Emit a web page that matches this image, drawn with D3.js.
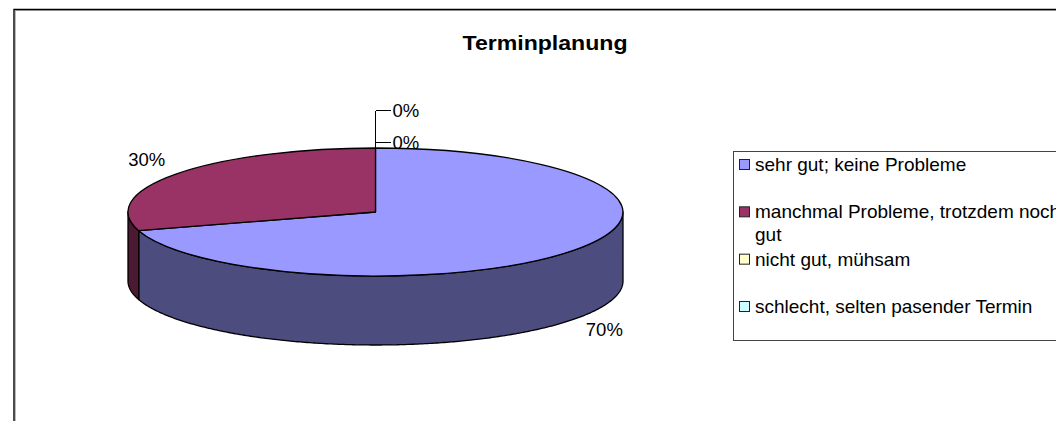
<!DOCTYPE html>
<meta charset="utf-8">
<style>

body {
  margin: 0;
  background: #fff;
  overflow: hidden;
}

text {
  font-family: "Liberation Sans", Arial, sans-serif;
  font-size: 18.5px;
  fill: #000;
}

.legend-text {
  font-size: 19px;
}

.title {
  font-size: 21px;
  font-weight: bold;
  text-anchor: middle;
}

.slice path {
  stroke: #000;
  stroke-width: 1.3px;
  stroke-linejoin: round;
  vector-effect: non-scaling-stroke;
}

.leader {
  fill: none;
  stroke: #000;
  stroke-width: 1px;
  shape-rendering: crispEdges;
}

</style>
<svg width="1056" height="421"></svg>
<script src="https://d3js.org/d3.v7.min.js"></script>
<script>

var title = "Terminplanung";
var categories = ["sehr gut; keine Probleme", "manchmal Probleme, trotzdem noch|gut", "nicht gut, mühsam", "schlecht, selten pasender Termin"];
var values = [70.3, 29.7, 0, 0];
var labels = ["70%", "30%", "0%", "0%"];
var colors = ["#9999ff", "#993366", "#ffffcc", "#ccffff"];

var svg = d3.select("svg");

var cx = 375.5, cy = 212, rx = 247.5, ry = 64, depth = 69;

var pie = d3.pie().sort(null).value(function(d) { return d; });
var slices = pie(values);

// chart frame runs off the right and bottom of the picture
svg.append("path")
    .attr("d", "M15.5,421V10.5H1056")
    .attr("fill", "none")
    .attr("stroke", "#bbb")
    .attr("stroke-width", 1);
svg.append("path")
    .attr("d", "M14,421V9.5H1056")
    .attr("fill", "none")
    .attr("stroke", "#000")
    .attr("stroke-width", 1.4);

// the title is wider in the original than the font gives, so stretch it
svg.append("text")
    .attr("class", "title")
    .attr("transform", "translate(545,50) scale(1.1,1)")
    .text(title);

function px(a) { return cx + rx * Math.sin(a); }
function py(a) { return cy - ry * Math.cos(a); }

// outer wall of a slice, only the part on the front half of the ellipse
function wall(d) {
  var a0 = Math.max(d.startAngle, Math.PI / 2),
      a1 = Math.min(d.endAngle, Math.PI * 3 / 2);
  if (a1 <= a0) return null;
  var steps = d3.range(a0, a1, 0.01).concat([a1]);
  var top = steps.map(function(a) { return [px(a), py(a)]; });
  var bottom = steps.slice().reverse().map(function(a) { return [px(a), py(a) + depth]; });
  return d3.line()(top.concat(bottom)) + "Z";
}

var walls = svg.append("g").attr("class", "slice");

walls.selectAll("path")
    .data(slices.filter(wall))
  .enter().append("path")
    .attr("d", wall)
    .attr("fill", function(d) { return d3.color(colors[d.index]).darker(1.95).formatHex(); });

var arc = d3.arc().innerRadius(0).outerRadius(1);

var tops = svg.append("g")
    .attr("class", "slice")
    .attr("transform", "translate(" + cx + "," + cy + ") scale(" + rx + "," + ry + ")");

tops.selectAll("path")
    .data(slices.filter(function(d) { return d.value > 0; }))
  .enter().append("path")
    .attr("d", arc)
    .attr("fill", function(d) { return colors[d.index]; });

// percentage labels of the two real slices
slices.filter(function(d) { return d.value > 0; }).forEach(function(d) {
  var mid = (d.startAngle + d.endAngle) / 2,
      front = Math.cos(mid) < 0;
  svg.append("text")
      .attr("x", px(mid) + (Math.sin(mid) > 0 ? 30 : -30))
      .attr("y", py(mid) + (front ? depth + 17 : -8))
      .attr("text-anchor", "middle")
      .text(labels[d.index]);
});

// zero slices get leader lines above the 12 o'clock point
var zeroY = [110.5, 142.5];
var lead = svg.append("g");
var zeros = slices.filter(function(d) { return d.value === 0; });

lead.append("path")
    .attr("class", "leader")
    .attr("d", "M" + cx + "," + (cy - ry) + "V" + zeroY[0]);

lead.selectAll("line")
    .data(zeros)
  .enter().append("line")
    .attr("class", "leader")
    .attr("x1", cx)
    .attr("x2", cx + 15)
    .attr("y1", function(d, i) { return zeroY[i]; })
    .attr("y2", function(d, i) { return zeroY[i]; });

lead.selectAll("text")
    .data(zeros)
  .enter().append("text")
    .attr("x", cx + 17)
    .attr("y", function(d, i) { return zeroY[i] + 6.5; })
    .text(function(d) { return labels[d.index]; });

// legend box is cut by the right edge
var legend = svg.append("g");

legend.append("rect")
    .attr("x", 733.5)
    .attr("y", 151.5)
    .attr("width", 340)
    .attr("height", 189)
    .attr("fill", "#fff")
    .attr("stroke", "#444")
    .attr("stroke-width", 1);

var rowY = d3.scalePoint()
    .domain(d3.range(categories.length))
    .range([165, 307]);

var row = legend.selectAll(".row")
    .data(categories)
  .enter().append("g")
    .attr("class", "row")
    .attr("transform", function(d, i) { return "translate(739," + rowY(i) + ")"; });

row.append("rect")
    .attr("x", 0.5)
    .attr("y", -5.5)
    .attr("width", 10)
    .attr("height", 10)
    .attr("fill", function(d, i) { return colors[i]; })
    .attr("stroke", "#222");

row.each(function(d) {
  var g = d3.select(this);
  d.split("|").forEach(function(line, i) {
    g.append("text")
        .attr("class", "legend-text")
        .attr("x", 16)
        .attr("y", 6 + i * 23)
        .text(line);
  });
});

</script>
